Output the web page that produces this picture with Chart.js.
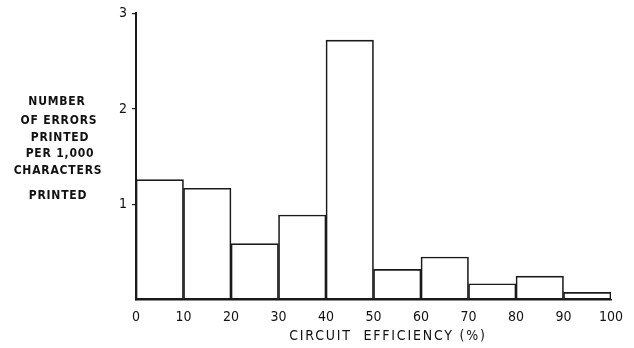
<!DOCTYPE html>
<html><head><meta charset="utf-8">
<script src="https://cdn.jsdelivr.net/npm/chart.js@4"></script>
<style>html,body{margin:0;padding:0;background:#fff}#wrap{width:634px;height:348px}</style>
</head><body><div id="wrap"><canvas id="c" width="634" height="348"></canvas></div>
<script>
const binStarts = [0, 10, 20, 30, 40, 50, 60, 70, 80, 90];
const binWidth = 10;
const errorRates = [1.26, 1.17, 0.59, 0.89, 2.72, 0.32, 0.45, 0.17, 0.25, 0.08];
const yTicks = [1, 2, 3];
const xTickStep = 10;
const yTitleLines = ['NUMBER', 'OF ERRORS', 'PRINTED', 'PER 1,000', 'CHARACTERS', 'PRINTED'];
const xTitle = 'CIRCUIT  EFFICIENCY (%)';

const FONT = '"DejaVu Sans Condensed", "Liberation Sans Narrow", "DejaVu Sans", sans-serif';
const data = binStarts.map((s, i) => ({x: s + binWidth / 2, y: errorRates[i]}));

const titles = {
  id: 'titles',
  afterDraw(chart) {
    const ctx = chart.ctx;
    ctx.save();
    ctx.fillStyle = '#111';
    ctx.textAlign = 'center';
    ctx.textBaseline = 'middle';
    ctx.font = 'bold 12px ' + FONT;
    ctx.letterSpacing = '0.8px';
    const ys = [102, 121, 138, 154, 171, 196];
    const xs = [57, 59, 60, 60, 58, 58];
    yTitleLines.forEach((t, i) => ctx.fillText(t, xs[i], ys[i]));
    ctx.font = '14px ' + FONT;
    ctx.letterSpacing = '1.8px';
    ctx.fillText(xTitle, 388, 336);
    ctx.restore();
  }
};

new Chart(document.getElementById('c'), {
  type: 'bar',
  data: {
    datasets: [{
      data: data,
      backgroundColor: 'rgba(255,255,255,0)',
      borderColor: '#1a1a1a',
      borderWidth: 1,
      borderSkipped: false,
      categoryPercentage: 1,
      barPercentage: 1
    }]
  },
  plugins: [titles],
  options: {
    responsive: false,
    animation: false,
    events: [],
    layout: {padding: {top: 13, right: 23, left: 0, bottom: 0}},
    plugins: {legend: {display: false}, tooltip: {enabled: false}},
    scales: {
      x: {
        type: 'linear',
        min: 0, max: 100,
        offset: false,
        grid: {display: false, drawTicks: false},
        border: {display: true, color: '#1a1a1a', width: 1.5},
        ticks: {stepSize: xTickStep, padding: 9, color: '#111', font: {family: FONT, size: 14}, maxRotation: 0, autoSkip: false},
        afterFit(s) { s.height = 48; }
      },
      y: {
        min: 0, max: 3,
        grid: {drawOnChartArea: false, drawTicks: true, tickLength: 4, lineWidth: 1.2,
          color: c => (c.tick && yTicks.includes(c.tick.value)) ? '#1a1a1a' : 'rgba(0,0,0,0)'},
        border: {display: true, color: '#1a1a1a', width: 2},
        ticks: {stepSize: 1, padding: 5, color: '#111', font: {family: FONT, size: 14},
          callback: v => yTicks.includes(v) ? String(v) : ''},
        afterFit(s) { s.width = 136; }
      }
    }
  }
});
</script></body></html>
